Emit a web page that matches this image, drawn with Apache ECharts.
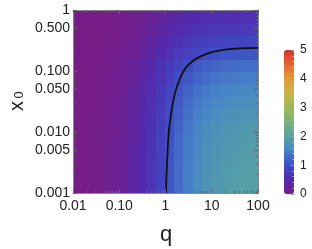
<!DOCTYPE html>
<html><head><meta charset="utf-8">
<script src="https://cdn.jsdelivr.net/npm/echarts@6/dist/echarts.min.js"></script>
<style>html,body{margin:0;padding:0;background:#fff}#c{width:312px;height:249px}</style>
</head><body><div id="c"></div>
<script>
// ---- tick labels ----
const qTicks = [0.01, 0.1, 1, 10, 100];
const qTickLabels = ['0.01', '0.10', '1', '10', '100'];
const x0Ticks = [0.001, 0.005, 0.01, 0.05, 0.1, 0.5, 1];
const x0TickLabels = ['0.001', '0.005', '0.010', '0.050', '0.100', '0.500', '1'];
const colorTicks = [0, 1, 2, 3, 4, 5];

// ---- heatmap cell centres (q columns, x0 rows) ----
const qCells = [0.0126, 0.02, 0.0316, 0.0501, 0.0794, 0.126, 0.2, 0.316, 0.501, 0.794, 1.26, 2.0, 3.16, 5.01, 7.94, 12.6, 20.0, 31.6, 50.1, 79.4];
const x0Cells = [0.00126, 0.002, 0.00316, 0.005, 0.00794, 0.0126, 0.02, 0.0316, 0.0501, 0.0794, 0.126, 0.2, 0.316, 0.501, 0.794];

// ---- heatmap values, one row per x0 (bottom to top) ----
const z_r01 = [0.02,0.04,0.06,0.09,0.14,0.22,0.32,0.47,0.65,0.86,1.09,1.30,1.48,1.63,1.73,1.81,1.86,1.89,1.91,1.93];
const z_r02 = [0.02,0.04,0.06,0.09,0.14,0.22,0.32,0.46,0.65,0.86,1.08,1.29,1.47,1.61,1.72,1.79,1.84,1.88,1.90,1.91];
const z_r03 = [0.02,0.04,0.06,0.09,0.14,0.21,0.32,0.46,0.64,0.85,1.07,1.28,1.46,1.60,1.70,1.78,1.83,1.86,1.88,1.90];
const z_r04 = [0.02,0.04,0.06,0.09,0.14,0.21,0.32,0.46,0.63,0.84,1.06,1.26,1.44,1.58,1.68,1.76,1.81,1.84,1.86,1.87];
const z_r05 = [0.02,0.04,0.06,0.09,0.14,0.21,0.31,0.45,0.62,0.83,1.04,1.25,1.42,1.56,1.66,1.73,1.78,1.81,1.83,1.85];
const z_r06 = [0.02,0.04,0.06,0.09,0.13,0.20,0.30,0.44,0.61,0.81,1.02,1.22,1.39,1.53,1.62,1.70,1.74,1.77,1.79,1.81];
const z_r07 = [0.02,0.03,0.05,0.08,0.13,0.20,0.29,0.42,0.59,0.78,0.98,1.17,1.34,1.47,1.56,1.63,1.68,1.71,1.72,1.74];
const z_r08 = [0.02,0.03,0.05,0.08,0.12,0.19,0.28,0.41,0.56,0.75,0.94,1.13,1.28,1.41,1.50,1.57,1.61,1.64,1.66,1.67];
const z_r09 = [0.02,0.03,0.05,0.08,0.12,0.18,0.27,0.38,0.53,0.71,0.89,1.07,1.22,1.33,1.42,1.48,1.52,1.55,1.57,1.58];
const z_r10 = [0.02,0.03,0.05,0.07,0.11,0.17,0.25,0.35,0.49,0.65,0.82,0.98,1.12,1.23,1.31,1.37,1.41,1.43,1.45,1.46];
const z_r11 = [0.02,0.03,0.04,0.06,0.10,0.15,0.22,0.32,0.44,0.59,0.74,0.89,1.01,1.11,1.18,1.23,1.27,1.29,1.30,1.31];
const z_r12 = [0.01,0.02,0.03,0.05,0.08,0.12,0.18,0.27,0.37,0.49,0.62,0.74,0.84,0.92,0.98,1.03,1.06,1.07,1.09,1.09];
const z_r13 = [0.01,0.02,0.03,0.04,0.07,0.10,0.15,0.22,0.31,0.41,0.51,0.61,0.70,0.77,0.82,0.85,0.88,0.89,0.90,0.91];
const z_r14 = [0.01,0.01,0.02,0.04,0.05,0.08,0.12,0.18,0.25,0.33,0.41,0.49,0.56,0.62,0.66,0.69,0.70,0.72,0.73,0.73];
const z_r15 = [0.01,0.01,0.02,0.03,0.04,0.07,0.10,0.14,0.20,0.27,0.33,0.40,0.46,0.50,0.53,0.56,0.57,0.58,0.59,0.59];

// ---- contour line ----
const contourQ  = [1.03, 1.05, 1.09, 1.17, 1.36, 1.6, 2.06, 2.87, 4.72, 9.2, 21, 50, 100];
const contourX0 = [0.001, 0.002, 0.0035, 0.0095, 0.023, 0.043, 0.076, 0.118, 0.161, 0.20, 0.226, 0.236, 0.24];

const rainbow = ['#781c86','#512aae','#3f4cc5','#4683c8','#58a5a0','#77b17a','#a0b859','#c8b347','#e09b3a','#e4682f','#d9302a'];

const lg = Math.log10;
const FONT = 'Liberation Sans';
const zRows = [z_r01,z_r02,z_r03,z_r04,z_r05,z_r06,z_r07,z_r08,z_r09,z_r10,z_r11,z_r12,z_r13,z_r14,z_r15];
const heatData = [];
zRows.forEach((row, j) => row.forEach((v, i) => heatData.push([lg(qCells[i]), lg(x0Cells[j]), v])));
const HALF = 0.1; // half a cell, in decades

function minorLogs(decades, skip) {
  const out = [];
  decades.forEach(d => { for (let k = 2; k <= 9; k++) if (!(skip && skip.includes(k))) out.push(lg(k) + d); });
  return out;
}
const qMajor = qTicks.map(lg);
const qMinor = minorLogs([-2, -1, 0, 1]);
const yMajor = x0Ticks.map(lg);
const yMinor = minorLogs([-3, -2, -1], [5]);

function fmt(vals, labels) {
  return v => { let b = 0; vals.forEach((t, i) => { if (Math.abs(lg(t) - v) < Math.abs(lg(vals[b]) - v)) b = i; }); return labels[b]; };
}
const frameCol = '#8a8a8a';
function ax(pos, ticks, len, showLine, labels, isX) {
  const o = {
    type: 'value', gridIndex: 0, position: pos, z: 10,
    min: isX ? -2 : -3, max: isX ? 2 : 0,
    axisLine: { show: showLine, onZero: false, lineStyle: { color: frameCol, width: 1 } },
    axisTick: { show: true, inside: true, length: len, customValues: ticks, lineStyle: { color: '#666', width: 1 } },
    splitLine: { show: false },
    axisLabel: { show: false }
  };
  if (labels) {
    o.axisLabel = { show: true, customValues: ticks, formatter: labels, fontSize: 14, fontFamily: FONT, color: '#222', margin: isX ? 6 : 3 };
  }
  return o;
}

const chart = echarts.init(document.getElementById('c'), null, { renderer: 'canvas' });
chart.setOption({
  animation: false,
  grid: [
    { left: 73, top: 10, width: 185, height: 183 },
    { left: 284, top: 50, width: 10, height: 144 }
  ],
  xAxis: [
    ax('bottom', qMajor, 4, true, fmt(qTicks, qTickLabels), true),
    ax('bottom', qMinor, 2, false, null, true),
    ax('top', qMajor, 4, true, null, true),
    ax('top', qMinor, 2, false, null, true),
    { type: 'value', gridIndex: 1, show: false }
  ],
  yAxis: [
    ax('left', yMajor, 4, true, fmt(x0Ticks, x0TickLabels), false),
    ax('left', yMinor, 2, false, null, false),
    ax('right', yMajor, 4, true, null, false),
    ax('right', yMinor, 2, false, null, false),
    {
      type: 'value', gridIndex: 1, position: 'right', min: colorTicks[0], max: colorTicks[colorTicks.length - 1], interval: 1, z: 10,
      axisLine: { show: false, onZero: false },
      axisTick: { show: true, inside: true, length: 3, lineStyle: { color: '#999' } },
      minorTick: { show: true, splitNumber: 5, length: 1.5, lineStyle: { color: '#bbb' } },
      splitLine: { show: false },
      axisLabel: { fontSize: 12, fontFamily: FONT, color: '#222', margin: 6 }
    }
  ],
  visualMap: {
    type: 'continuous', min: 0, max: 5, seriesIndex: 0, dimension: 2,
    inRange: { color: rainbow }, left: 284, top: 50, itemWidth: 10, itemHeight: 144,
    padding: 0, calculable: false, hoverLink: false
  },
  series: [
    {
      type: 'custom', xAxisIndex: 0, yAxisIndex: 0, data: heatData, z: 1, clip: true,
      renderItem: (params, api) => {
        const a = api.coord([api.value(0) - HALF, api.value(1) + HALF]);
        const b = api.coord([api.value(0) + HALF, api.value(1) - HALF]);
        const x = Math.floor(a[0]), y = Math.floor(a[1]);
        return {
          type: 'rect',
          shape: { x: x, y: y, width: Math.ceil(b[0]) - x + 1, height: Math.ceil(b[1]) - y + 1 },
          style: { fill: api.visual('color') }
        };
      }
    },
    {
      type: 'line', xAxisIndex: 0, yAxisIndex: 0, z: 5, symbol: 'none', smooth: 0.3,
      data: contourQ.map((q, i) => [lg(q), lg(contourX0[i])]),
      lineStyle: { color: '#111', width: 1.8 }
    }
  ],
  graphic: [
    { type: 'text', x: 166, y: 235, style: { text: 'q', fontSize: 22, fontFamily: FONT, fill: '#222', align: 'center', verticalAlign: 'middle', textAlign: 'center', textVerticalAlign: 'middle' } },
    { type: 'text', x: 17.5, y: 106, rotation: Math.PI / 2, style: { text: 'x', fontSize: 20, fontFamily: FONT, fill: '#222', align: 'center', verticalAlign: 'middle', textAlign: 'center', textVerticalAlign: 'middle' } },
    { type: 'text', x: 19, y: 95, rotation: Math.PI / 2, style: { text: '0', fontSize: 13, fontFamily: FONT, fill: '#222', align: 'center', verticalAlign: 'middle', textAlign: 'center', textVerticalAlign: 'middle' } }
  ]
});
</script></body></html>
